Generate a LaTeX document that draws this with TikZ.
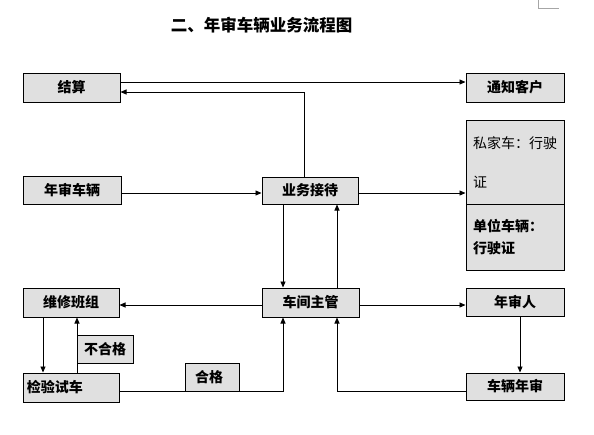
\documentclass[tikz,border=0pt]{standalone}
\usepackage{fontspec}
\newfontfamily\cjk{Noto Sans CJK SC}
\usetikzlibrary{arrows.meta}
\definecolor{boxgray}{RGB}{224,224,224}
\tikzset{
  box/.style={draw, fill=boxgray, line width=1pt, minimum width=97pt, minimum height=29pt, inner sep=0pt, font=\cjk\bfseries\fontsize{14}{16}\selectfont},
  arr/.style={-{Triangle[length=6pt,width=5pt]}, line width=0.9pt},
}
\begin{document}
\begin{tikzpicture}[x=1pt, y=-1pt]
    \useasboundingbox (0,0) rectangle (594,434);
    % 页角标记
    \draw[black!35, line width=0.8pt] (538,0) -- (538,8) -- (559,8);
    % 标题
    \node[font=\cjk\bfseries\fontsize{16.5}{18}\selectfont] (title) at (261.5,25.5) {二、年审车辆业务流程图};

    % 节点
    \node[box] (js) at (71.5,87.5) {结算};
    \node[box, minimum width=98pt] (tz) at (515,87.5) {通知客户};
    \node[box, minimum width=98pt, minimum height=28pt] (ns) at (72,190.5) {年审车辆};
    \node[box, minimum width=96pt, minimum height=27pt] (ywjd) at (310,190.5) {业务接待};
    \node[box, minimum width=98pt, minimum height=84pt, text width=84pt, align=left, font=\cjk\fontsize{14}{39}\selectfont] (sjc) at (515,162) {私家车：行驶\\证};
    \node[box, minimum width=98pt, minimum height=66pt, text width=84pt, align=left, font=\cjk\bfseries\fontsize{14}{22}\selectfont] (dw) at (515,237) {单位车辆：\\行驶证};
    \node[box, minimum width=96pt] (wx) at (71,302.5) {维修班组};
    \node[box] (cj) at (310.5,302.5) {车间主管};
    \node[box, minimum width=98pt, minimum height=28pt] (nsr) at (515,302) {年审人};
    \node[box, minimum width=56pt, minimum height=28pt] (bhg) at (105,349) {不合格};
    \node[box, minimum width=96pt, text width=88pt, align=left] (jy) at (71,387.5) {检验试车};
    \node[box, minimum width=54pt, minimum height=28pt, text width=34pt, align=left] (hg) at (212,377) {合格};
    \node[box, minimum width=98pt, minimum height=27pt] (cl) at (515,386.5) {车辆年审};

    % 折点
    \coordinate (y1) at (0,82);
    \coordinate (b1) at (304,92);
    \coordinate (y2) at (0,193);
    \coordinate (x1) at (283,0);
    \coordinate (x2) at (337,0);
    \coordinate (y3) at (0,305);
    \coordinate (x3) at (43,0);
    \coordinate (x4) at (77,0);
    \coordinate (y4) at (0,391);
    \coordinate (x5) at (520,0);

    % 连线
    \draw[arr] (js.east |- y1) -- (tz.west |- y1);
    \draw[arr] (ywjd.north -| b1) |- (js.east |- b1);
    \draw[arr] (ns.east |- y2) -- (ywjd.west |- y2);
    \draw[arr] (ywjd.east |- y2) -- (sjc.west |- y2);
    \draw[arr] (ywjd.south -| x1) -- (cj.north -| x1);
    \draw[arr] (cj.north -| x2) -- (ywjd.south -| x2);
    \draw[arr] (cj.west |- y3) -- (wx.east |- y3);
    \draw[arr] (cj.east |- y3) -- (nsr.west |- y3);
    \draw[arr] (wx.south -| x3) -- (jy.north -| x3);
    \draw[arr] (jy.north -| x4) -- (wx.south -| x4);
    \draw[arr] (jy.east |- y4) -| (cj.south -| x1);
    \draw[arr] (cl.west |- y4) -| (cj.south -| x2);
    \draw[arr] (nsr.south -| x5) -- (cl.north -| x5);
\end{tikzpicture}
\end{document}
